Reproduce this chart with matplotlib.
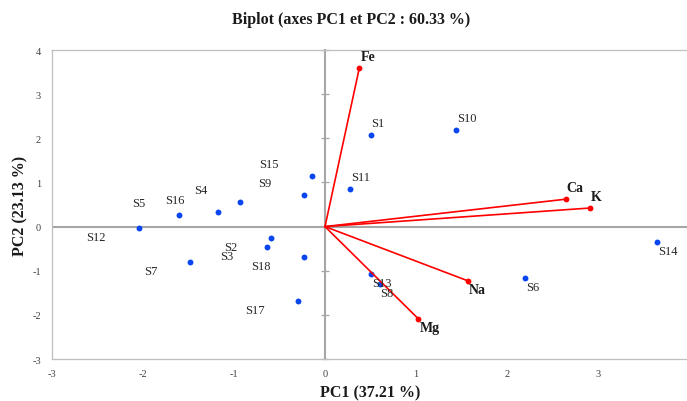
import matplotlib
matplotlib.use("Agg")
import matplotlib.pyplot as plt
import numpy as np

# ---- data ----
samples = ["S1", "S2", "S3", "S4", "S5", "S6", "S7", "S8", "S9", "S10",
           "S11", "S12", "S13", "S14", "S15", "S16", "S17", "S18"]
pc1 = [0.50, -0.595, -0.642, -0.934, -1.606, 2.198, -1.482, 0.60, -0.226, 1.44,
       0.28, -2.047, 0.504, 3.647, -0.146, -1.175, -0.302, -0.233]
pc2 = [2.07, -0.27, -0.47, 0.56, 0.27, -1.16, -0.81, -1.29, 0.71, 2.19,
       0.86, -0.03, -1.07, -0.35, 1.15, 0.32, -1.68, -0.69]

variables = ["Fe", "Ca", "K", "Na", "Mg"]
var_pc1 = [0.377, 2.644, 2.91, 1.571, 1.026]
var_pc2 = [3.59, 0.62, 0.42, -1.23, -2.09]

xticks = [-3, -2, -1, 0, 1, 2, 3, 4]
yticks = [-3, -2, -1, 0, 1, 2, 3, 4]

title = "Biplot (axes PC1 et PC2 : 60.33 %)"
xlabel = "PC1 (37.21 %)"
ylabel = "PC2 (23.13 %)"

# ---- figure ----
plt.rcParams['font.family'] = ['Liberation Serif', 'DejaVu Serif']
W, H = 687, 402
fig = plt.figure(figsize=(W / 100, H / 100), dpi=100)
left, right, top, bottom = 52, 689, 51, 360
ax = fig.add_axes([left / W, 1 - bottom / H, (right - left) / W, (bottom - top) / H])

xmin, xmax = -3, 4
ax.set_xlim(xmin, xmax)
ax.set_ylim(-3, 4)

border = '#BFBFBF'
zero_c = '#A6A6A6'
for s in ['left', 'top', 'bottom', 'right']:
    ax.spines[s].set_color(border)
    ax.spines[s].set_linewidth(0.9)

ax.set_xticks(xticks)
ax.set_yticks(yticks)
ax.set_xticklabels([str(t) for t in xticks])
ax.set_yticklabels([str(t) for t in yticks])
ax.tick_params(axis='both', length=0, labelsize=7.5, colors='#404040')
ax.tick_params(axis='x', pad=7)
ax.tick_params(axis='y', pad=8)

# zero lines
ax.axhline(0, color=zero_c, lw=1.5, zorder=1)
sec = ax.secondary_yaxis((0 - xmin) / (xmax - xmin))
sec.set_yticks(yticks)
sec.set_yticklabels([])
sec.spines['left'].set_color(zero_c)
sec.spines['left'].set_linewidth(1.5)
sec.spines['right'].set_visible(False)
sec.tick_params(axis='y', direction='inout', length=6, width=0.9, color=zero_c)

# sample points
blue = '#0A46F0'
ax.scatter(pc1, pc2, s=18, color=blue, zorder=3, linewidths=0)
for name, x, y in zip(samples, pc1, pc2):
    dy = 12 if y > 0 else -9
    if x >= 0:
        ax.annotate(name, (x, y), xytext=(1, dy), textcoords='offset pixels',
                    ha='left', va='center', fontsize=9, color='#262626', zorder=5)
    else:
        ax.annotate(name, (x, y), xytext=(-33, dy), textcoords='offset pixels',
                    ha='right', va='center', fontsize=9, color='#262626', zorder=5)

# variable vectors
red = '#FF0000'
for name, x, y in zip(variables, var_pc1, var_pc2):
    ax.plot([0, x], [0, y], color=red, lw=1.2, zorder=4)
    ax.plot([x], [y], 'o', color=red, ms=4.2, zorder=4, mew=0)
    dy = 12 if y > 0 else -9
    ax.annotate(name, (x, y), xytext=(1, dy), textcoords='offset pixels',
                ha='left', va='center', fontsize=10, fontweight='bold',
                color='#1a1a1a', zorder=5)

ax.set_xlabel(xlabel, fontsize=11.5, fontweight='bold', labelpad=5, color='#1a1a1a')
ax.set_ylabel(ylabel, fontsize=11.5, fontweight='bold', labelpad=3, color='#1a1a1a')
fig.text(351 / W, 1 - 20 / H, title, ha='center', va='center', fontsize=11.5,
         fontweight='bold', color='#1a1a1a')

fig.savefig("out.png", dpi=100)
